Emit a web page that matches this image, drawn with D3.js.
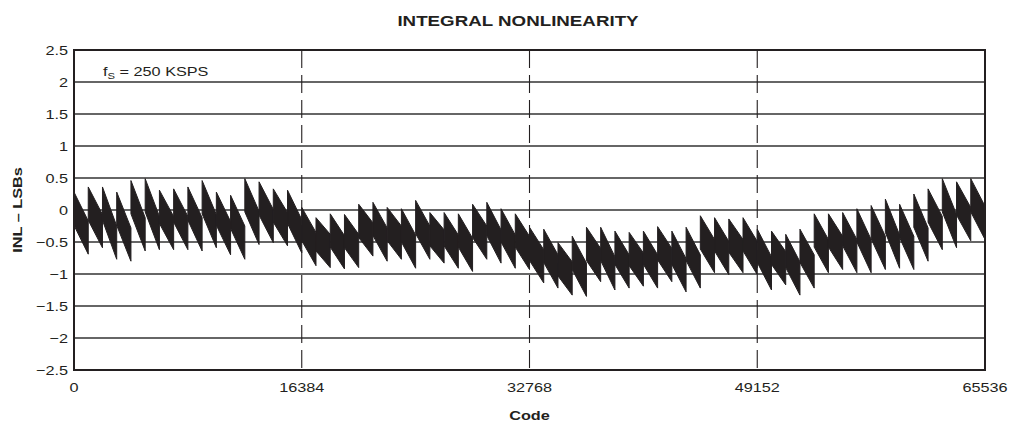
<!DOCTYPE html>
<html>
<head>
<meta charset="utf-8">
<script src="https://cdn.jsdelivr.net/npm/d3@7"></script>
<style>
  html, body { margin: 0; padding: 0; background: #fff; }
  svg { display: block; }
  text { font-family: "Liberation Sans", Arial, Helvetica, sans-serif; fill: #231f20; }
</style>
</head>
<body>
<svg id="chart" width="1011" height="427"></svg>
<script>
// ---- data ----
const xTicks = [0, 16384, 32768, 49152, 65536];
const yTicks = [2.5, 2, 1.5, 1, 0.5, 0, -0.5, -1, -1.5, -2, -2.5];
const toothSize = 1024;           // codes per sawtooth segment
const noiseBand = 0.52;           // vertical width of the noisy band (LSB)
// value at the start (peak) of each 1024-code segment
const toothPeak = [
  0.28, 0.36, 0.36, 0.28, 0.46, 0.49, 0.31, 0.33, 0.36, 0.46, 0.28,
  0.23, 0.49, 0.44, 0.33, 0.31, 0.04, -0.12, -0.06, -0.07, 0.09, 0.12,
  0.04, 0.02, 0.15, -0.04, -0.04, -0.06, 0.09, 0.12, 0.02, -0.06,
  -0.27, -0.30, -0.51, -0.41, -0.27, -0.27, -0.33, -0.35, -0.33, -0.26, -0.33,
  -0.27, -0.09, -0.12, -0.14, -0.12, -0.30, -0.33, -0.38, -0.30, -0.06, -0.06,
  -0.04, 0.02, 0.07, 0.17, 0.09, 0.25, 0.33, 0.49, 0.44, 0.49
];
// value at the end (trough) of each segment
const toothTrough = [
  -0.69, -0.59, -0.77, -0.80, -0.64, -0.62, -0.62, -0.62, -0.64, -0.59, -0.70,
  -0.77, -0.54, -0.51, -0.56, -0.67, -0.87, -0.90, -0.92, -0.90, -0.72, -0.80,
  -0.77, -0.91, -0.77, -0.83, -0.91, -0.96, -0.77, -0.83, -0.91, -0.93,
  -1.14, -1.22, -1.33, -1.35, -1.12, -1.25, -1.22, -1.19, -1.22, -1.12, -1.28,
  -1.22, -0.98, -1.01, -0.98, -1.01, -1.25, -1.17, -1.33, -1.22, -0.98, -0.93,
  -0.98, -0.98, -0.93, -0.91, -0.93, -0.80, -0.62, -0.59, -0.48, -0.46
];
const toothStart = d3.range(toothPeak.length).map(i => i * toothSize);

// ---- layout ----
const M = { left: 74, right: 985, top: 50, bottom: 370 };
const INK = "#231f20";
const SX = 1.25; // horizontal stretch of the original lettering

const svg = d3.select("#chart");
const x = d3.scaleLinear().domain([0, 65536]).range([M.left, M.right]);
const y = d3.scaleLinear().domain([-2.5, 2.5]).range([M.bottom, M.top]);

function stretchedText(parent, tx, ty, str, opts) {
  const g = parent.append("g").attr("transform", `translate(${tx},${ty}) ${opts.rotate ? "rotate(-90) " : ""}scale(${SX},1)`);
  return g.append("text")
    .attr("text-anchor", opts.anchor || "middle")
    .style("font-size", (opts.size || 13) + "px")
    .style("font-weight", opts.bold ? "bold" : "normal")
    .text(str);
}

// horizontal grid
svg.append("g").selectAll("line")
  .data(yTicks.filter(v => v !== 2.5 && v !== -2.5))
  .join("line")
  .attr("x1", M.left).attr("x2", M.right)
  .attr("y1", d => y(d)).attr("y2", d => y(d))
  .attr("stroke", "#333").attr("stroke-width", 1.3);

// vertical dashed grid
svg.append("g").selectAll("line")
  .data(xTicks.filter(v => v !== 0 && v !== 65536))
  .join("line")
  .attr("x1", d => x(d)).attr("x2", d => x(d))
  .attr("y1", M.top).attr("y2", M.bottom)
  .attr("stroke", INK).attr("stroke-width", 1.1)
  .attr("stroke-dasharray", "18,7");

// data: each segment is a slanted noisy band from its peak down to its trough
svg.append("g").selectAll("path")
  .data(toothStart.map((c, i) => ({ c, hi: toothPeak[i], lo: toothTrough[i] })))
  .join("path")
  .attr("d", d => {
    const x0 = x(d.c), x1 = x(d.c + toothSize);
    return `M${x0},${y(d.hi)}L${x1},${y(d.lo + noiseBand)}L${x1},${y(d.lo)}L${x0},${y(d.hi - noiseBand)}Z`;
  })
  .attr("fill", INK)
  .attr("stroke", INK)
  .attr("stroke-width", 1)
  .attr("stroke-linejoin", "round");

// frame
svg.append("rect")
  .attr("x", M.left).attr("y", M.top)
  .attr("width", M.right - M.left).attr("height", M.bottom - M.top)
  .attr("fill", "none").attr("stroke", INK).attr("stroke-width", 2);

// y tick labels
yTicks.forEach(v => {
  const label = d3.format(".1~f")(v).replace("-", "\u2212");
  stretchedText(svg, M.left - 6, y(v) + 4.5, label, { anchor: "end", size: 13 });
});

// x tick labels
xTicks.forEach(v => {
  stretchedText(svg, x(v), 392, String(v), { anchor: "middle", size: 13 });
});

// title
stretchedText(svg, 518, 26, "INTEGRAL NONLINEARITY", { anchor: "middle", size: 15, bold: true });

// x axis title
stretchedText(svg, x(32768), 420, "Code", { anchor: "middle", size: 13, bold: true });

// y axis title (rotated)
stretchedText(svg, 22, y(0), "INL \u2013 LSBs", { anchor: "middle", size: 13, bold: true, rotate: true });

// annotation f_S = 250 KSPS
const ann = stretchedText(svg, 103, 76, "", { anchor: "start", size: 13 });
ann.append("tspan").text("f");
ann.append("tspan").attr("dy", 3).style("font-size", "9px").text("S");
ann.append("tspan").attr("dy", -3).text(" = 250 KSPS");
</script>
</body>
</html>
